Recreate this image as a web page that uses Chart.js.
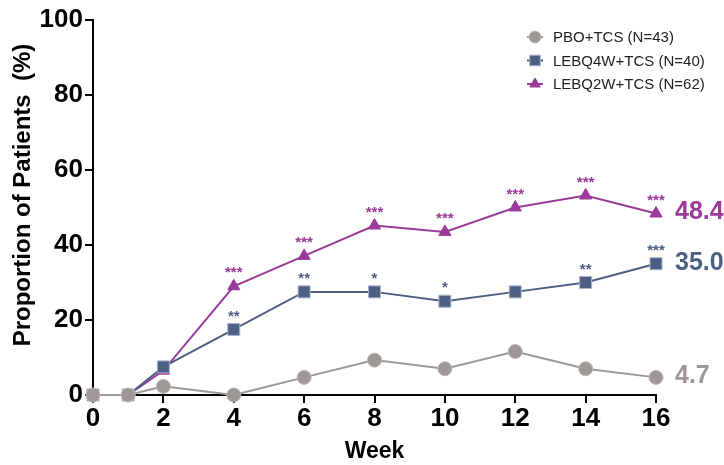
<!DOCTYPE html>
<html>
<head>
<meta charset="utf-8">
<script src="https://cdn.jsdelivr.net/npm/chart.js@4/dist/chart.umd.min.js"></script>
<style>
  html, body { margin: 0; padding: 0; background: #fff; }
  #wrap { width: 724px; height: 465px; position: relative; }
</style>
</head>
<body>
<div id="wrap"><canvas id="c" width="724" height="465"></canvas></div>
<script>
// ---- data ----
const weeks = [0, 1, 2, 4, 6, 8, 10, 12, 14, 16];
const seriesNames = ['PBO+TCS (N=43)', 'LEBQ4W+TCS (N=40)', 'LEBQ2W+TCS (N=62)'];
const pboValues = [0, 0, 2.3, 0, 4.7, 9.3, 7.0, 11.6, 7.0, 4.7];
const q4wValues = [0, 0, 7.5, 17.5, 27.5, 27.5, 25.0, 27.5, 30.0, 35.0];
const q2wValues = [0, 0, 6.5, 29.0, 37.1, 45.2, 43.5, 50.0, 53.2, 48.4];
const q4wSig = ['', '', '', '**', '**', '*', '*', '', '**', '***'];
const q2wSig = ['', '', '', '***', '***', '***', '***', '***', '***', '***'];
const pboSig = ['', '', '', '', '', '', '', '', '', ''];
const endLabels = ['4.7', '35.0', '48.4'];
const yTicks = [0, 20, 40, 60, 80, 100];
const xTicks = [0, 2, 4, 6, 8, 10, 12, 14, 16];
const yTitle = 'Proportion of Patients  (%)';
const xTitle = 'Week';

const colors = ['#9e9894', '#4e5f84', '#9b3a9a'];
const FONT = 'Arial, "Liberation Sans", Helvetica, sans-serif';

function pts(vals) { return weeks.map((w, i) => ({ x: w, y: vals[i] })); }

const sigs = [pboSig, q4wSig, q2wSig];

const annotPlugin = {
  id: 'annot',
  afterDatasetsDraw(chart) {
    const ctx = chart.ctx;
    const xs = chart.scales.x, ys = chart.scales.y;
    ctx.save();
    // y axis title
    ctx.save();
    ctx.translate(23, 195);
    ctx.rotate(-Math.PI / 2);
    ctx.fillStyle = '#000';
    ctx.font = 'bold 24px ' + FONT;
    ctx.textAlign = 'center';
    ctx.textBaseline = 'middle';
    ctx.fillText(yTitle, 0, 0);
    ctx.restore();
    // significance stars
    chart.data.datasets.forEach((ds, di) => {
      ctx.fillStyle = colors[di];
      ctx.font = 'bold 15px ' + FONT;
      ctx.textAlign = 'center';
      ctx.textBaseline = 'middle';
      ds.data.forEach((p, i) => {
        const s = sigs[di][i];
        if (!s) return;
        const px = xs.getPixelForValue(p.x), py = ys.getPixelForValue(p.y);
        ctx.fillText(s, px, py - 13);
      });
      // end label
      const last = ds.data[ds.data.length - 1];
      ctx.font = 'bold 25px ' + FONT;
      ctx.textAlign = 'left';
      ctx.fillText(endLabels[di], xs.getPixelForValue(last.x) + 19, ys.getPixelForValue(last.y) - 1);
    });
    // legend
    const lx = 535, ly0 = 37, dy = 23.5;
    chart.data.datasets.forEach((ds, di) => {
      const y = ly0 + di * dy;
      ctx.strokeStyle = ds.borderColor;
      ctx.lineWidth = 2;
      ctx.beginPath(); ctx.moveTo(lx - 8, y); ctx.lineTo(lx + 8, y); ctx.stroke();
      ctx.fillStyle = ds.pointBackgroundColor;
      ctx.strokeStyle = ds.pointBorderColor;
      ctx.lineWidth = 1;
      Chart.helpers.drawPoint(ctx, { pointStyle: ds.pointStyle, rotation: 0, radius: ds.pointRadius - 1, borderWidth: 1 }, lx, y);
      ctx.fillStyle = '#222';
      ctx.font = '15px ' + FONT;
      ctx.textAlign = 'left';
      ctx.textBaseline = 'middle';
      ctx.fillText(ds.label, 553, y + 1);
    });
    ctx.restore();
  }
};

new Chart(document.getElementById('c'), {
  type: 'line',
  data: {
    datasets: [
      { label: seriesNames[0], data: pts(pboValues), borderColor: colors[0], backgroundColor: colors[0],
        pointBackgroundColor: colors[0], pointBorderColor: '#bdb8b4', pointBorderWidth: 1,
        pointStyle: 'circle', pointRadius: 7, borderWidth: 2, clip: false },
      { label: seriesNames[1], data: pts(q4wValues), borderColor: colors[1], backgroundColor: colors[1],
        pointBackgroundColor: colors[1], pointBorderColor: '#a9b4cc', pointBorderWidth: 1,
        pointStyle: 'rect', pointRadius: 8.5, borderWidth: 2, clip: false },
      { label: seriesNames[2], data: pts(q2wValues), borderColor: colors[2], backgroundColor: colors[2],
        pointBackgroundColor: colors[2], pointBorderColor: colors[2], pointBorderWidth: 1,
        pointStyle: 'triangle', pointRadius: 7, borderWidth: 2, clip: false }
    ]
  },
  options: {
    responsive: false,
    animation: false,
    layout: { padding: { top: 20, right: 68, bottom: 0, left: 0 } },
    plugins: { legend: { display: false }, tooltip: { enabled: false } },
    scales: {
      x: {
        type: 'linear', min: 0, max: 16,
        afterBuildTicks(s) { s.ticks = xTicks.map(v => ({ value: v })); },
        afterFit(s) { s.height = 70; },
        ticks: { color: '#000', font: { family: FONT, size: 26, weight: 'bold' }, padding: 0, maxRotation: 0 },
        grid: { drawOnChartArea: false, drawTicks: true, tickLength: 8, color: '#000', lineWidth: 2 },
        border: { color: '#000', width: 2 },
        title: { display: true, text: xTitle, color: '#000', font: { family: FONT, size: 23, weight: 'bold' }, padding: { top: 0, bottom: 0 } }
      },
      y: {
        min: 0, max: 100,
        afterBuildTicks(s) { s.ticks = yTicks.map(v => ({ value: v })); },
        afterFit(s) { s.width = 93; },
        ticks: { color: '#000', font: { family: FONT, size: 26, weight: 'bold' }, padding: 2 },
        grid: { drawOnChartArea: false, drawTicks: true, tickLength: 8, color: '#000', lineWidth: 2 },
        border: { color: '#000', width: 2 },
        title: { display: false }
      }
    }
  },
  plugins: [annotPlugin]
});
</script>
</body>
</html>
